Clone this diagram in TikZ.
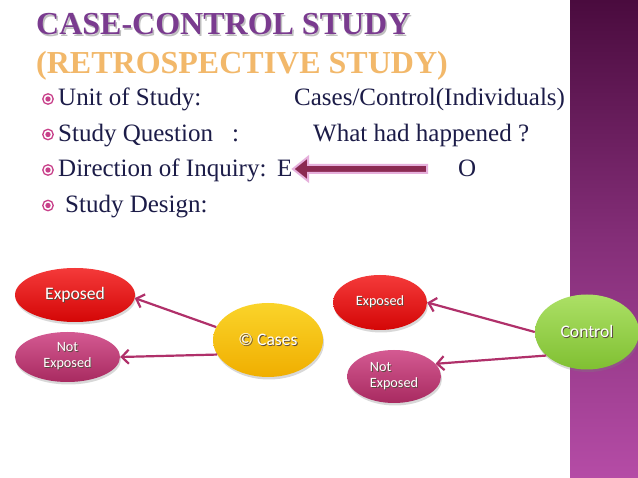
\documentclass[tikz,border=0pt]{standalone}
\usepackage{fontspec}
\setmainfont{Liberation Serif}
\newfontfamily\calib{Carlito}
\usetikzlibrary{shapes.geometric,arrows.meta,shadows}
\definecolor{titlepurple}{HTML}{7A3B8F}
\definecolor{retroorange}{HTML}{F2B86A}
\definecolor{bodynavy}{HTML}{1C1C48}
\definecolor{bulletpink}{HTML}{C8408A}
\definecolor{arrowred}{HTML}{B0306A}
\definecolor{blockfill}{HTML}{8B2A52}
\definecolor{blockedge}{HTML}{E6B0DC}
\definecolor{bandtop}{HTML}{4A0B3E}
\definecolor{bandmid}{HTML}{842E78}
\definecolor{bandbot}{HTML}{B54CA6}
\definecolor{redtop}{HTML}{F43A3A}
\definecolor{redbot}{HTML}{D40606}
\definecolor{magtop}{HTML}{D45A92}
\definecolor{magbot}{HTML}{A82A60}
\definecolor{yeltop}{HTML}{FAD42A}
\definecolor{yelbot}{HTML}{F0AE00}
\definecolor{grntop}{HTML}{ACE066}
\definecolor{grnbot}{HTML}{80C032}
\definecolor{txtshadow}{HTML}{5A4A40}
\newcommand\shtext[1]{\makebox[0pt][l]{\raisebox{-0.9pt}{\hspace{0.9pt}\textcolor{txtshadow}{#1}}}#1}
\begin{document}
\begin{tikzpicture}[x=1pt,y=-1pt,
  bodytext/.style={anchor=base west, inner sep=0, text=bodynavy, font=\fontsize{25}{30}\selectfont},
  titletext/.style={anchor=base west, inner sep=0, font=\bfseries\fontsize{32}{36}\selectfont},
  bulletmark/.style={circle, draw=bulletpink, line width=1.3pt, minimum size=10.5pt, inner sep=0,
    path picture={\fill[bulletpink] (path picture bounding box.center) circle (2.7pt);}},
  ellnode/.style={ellipse, inner sep=0, text=white,
    drop shadow={opacity=0.3, shadow xshift=1pt, shadow yshift=-2.5pt}},
  bigfont/.style={font=\calib\fontsize{17.6}{19}\selectfont},
  smallfont/.style={font=\calib\fontsize{14.2}{16}\selectfont},
  conn/.style={draw=arrowred, line width=2.2pt, -{Straight Barb[length=7pt,width=14pt]}}
]
\useasboundingbox (0,0) rectangle (638,478);
\fill[white] (0,0) rectangle (638,478);
\shade[top color=bandtop, bottom color=bandbot, middle color=bandmid] (570,0) rectangle (638,478);

% titles
\node[titletext, text=black, opacity=0.25] (titleshadow) at (37.5,36.5) {CASE-CONTROL STUDY};
\node[titletext, text=titlepurple] (title) at (36,35) {CASE-CONTROL STUDY};
\node[titletext, text=retroorange] (retro) at (36,74) {(RETROSPECTIVE STUDY)};

% bullets
\node[bulletmark] (b1) at (48,99) {};
\node[bulletmark] (b2) at (48,134.5) {};
\node[bulletmark] (b3) at (48,170) {};
\node[bulletmark] (b4) at (48,205.5) {};

% body text
\node[bodytext] (unit) at (58,106) {Unit of Study:};
\node[bodytext] (unitval) at (294,106) {Cases/Control(Individuals)};
\node[bodytext] (quest) at (58,141.5) {Study Question};
\node[bodytext] (questcolon) at (232,141.5) {:};
\node[bodytext] (questval) at (313,141.5) {What had happened ?};
\node[bodytext] (dir) at (58,177) {Direction of Inquiry:};
\node[bodytext] (dirE) at (277,177) {E};
\node[bodytext] (dirO) at (458,177) {O};
\node[bodytext] (design) at (65,212.5) {Study Design:};

% block arrow
\filldraw[fill=blockfill, draw=blockedge, line width=2pt, line join=miter]
  (293,169) -- (308,157) -- (308,165) -- (427,165) -- (427,173) -- (308,173) -- (308,181) -- cycle;

% left group
\node[ellnode, bigfont, top color=redtop, bottom color=redbot, minimum width=120pt, minimum height=54pt] (exp1) at (75,295) {\shtext{Exposed}};
\node[ellnode, smallfont, align=center, top color=magtop, bottom color=magbot, minimum width=105pt, minimum height=50pt] (ne1) at (67.5,357) {\shtext{Not}\\\shtext{Exposed}};
\node[ellnode, bigfont, top color=yeltop, bottom color=yelbot, minimum width=110pt, minimum height=74pt] (cases) at (268,340) {\shtext{© Cases}};

% right group
\node[ellnode, smallfont, top color=redtop, bottom color=redbot, minimum width=94pt, minimum height=55pt] (exp2) at (380,302.5) {\shtext{Exposed}};
\node[ellnode, smallfont, align=left, top color=magtop, bottom color=magbot, minimum width=94pt, minimum height=53pt] (ne2) at (394,376.5) {\shtext{Not}\\\shtext{Exposed}};
\node[ellnode, bigfont, top color=grntop, bottom color=grnbot, minimum width=104pt, minimum height=75pt] (control) at (587,332) {\shtext{Control}};

% connectors
\draw[conn] (cases.166) -- (exp1.-3);
\draw[conn] (cases.196) -- (ne1.east);
\draw[conn] (control.west) -- (exp2.east);
\draw[conn] (control.210) -- (ne2.17);
\end{tikzpicture}
\end{document}
